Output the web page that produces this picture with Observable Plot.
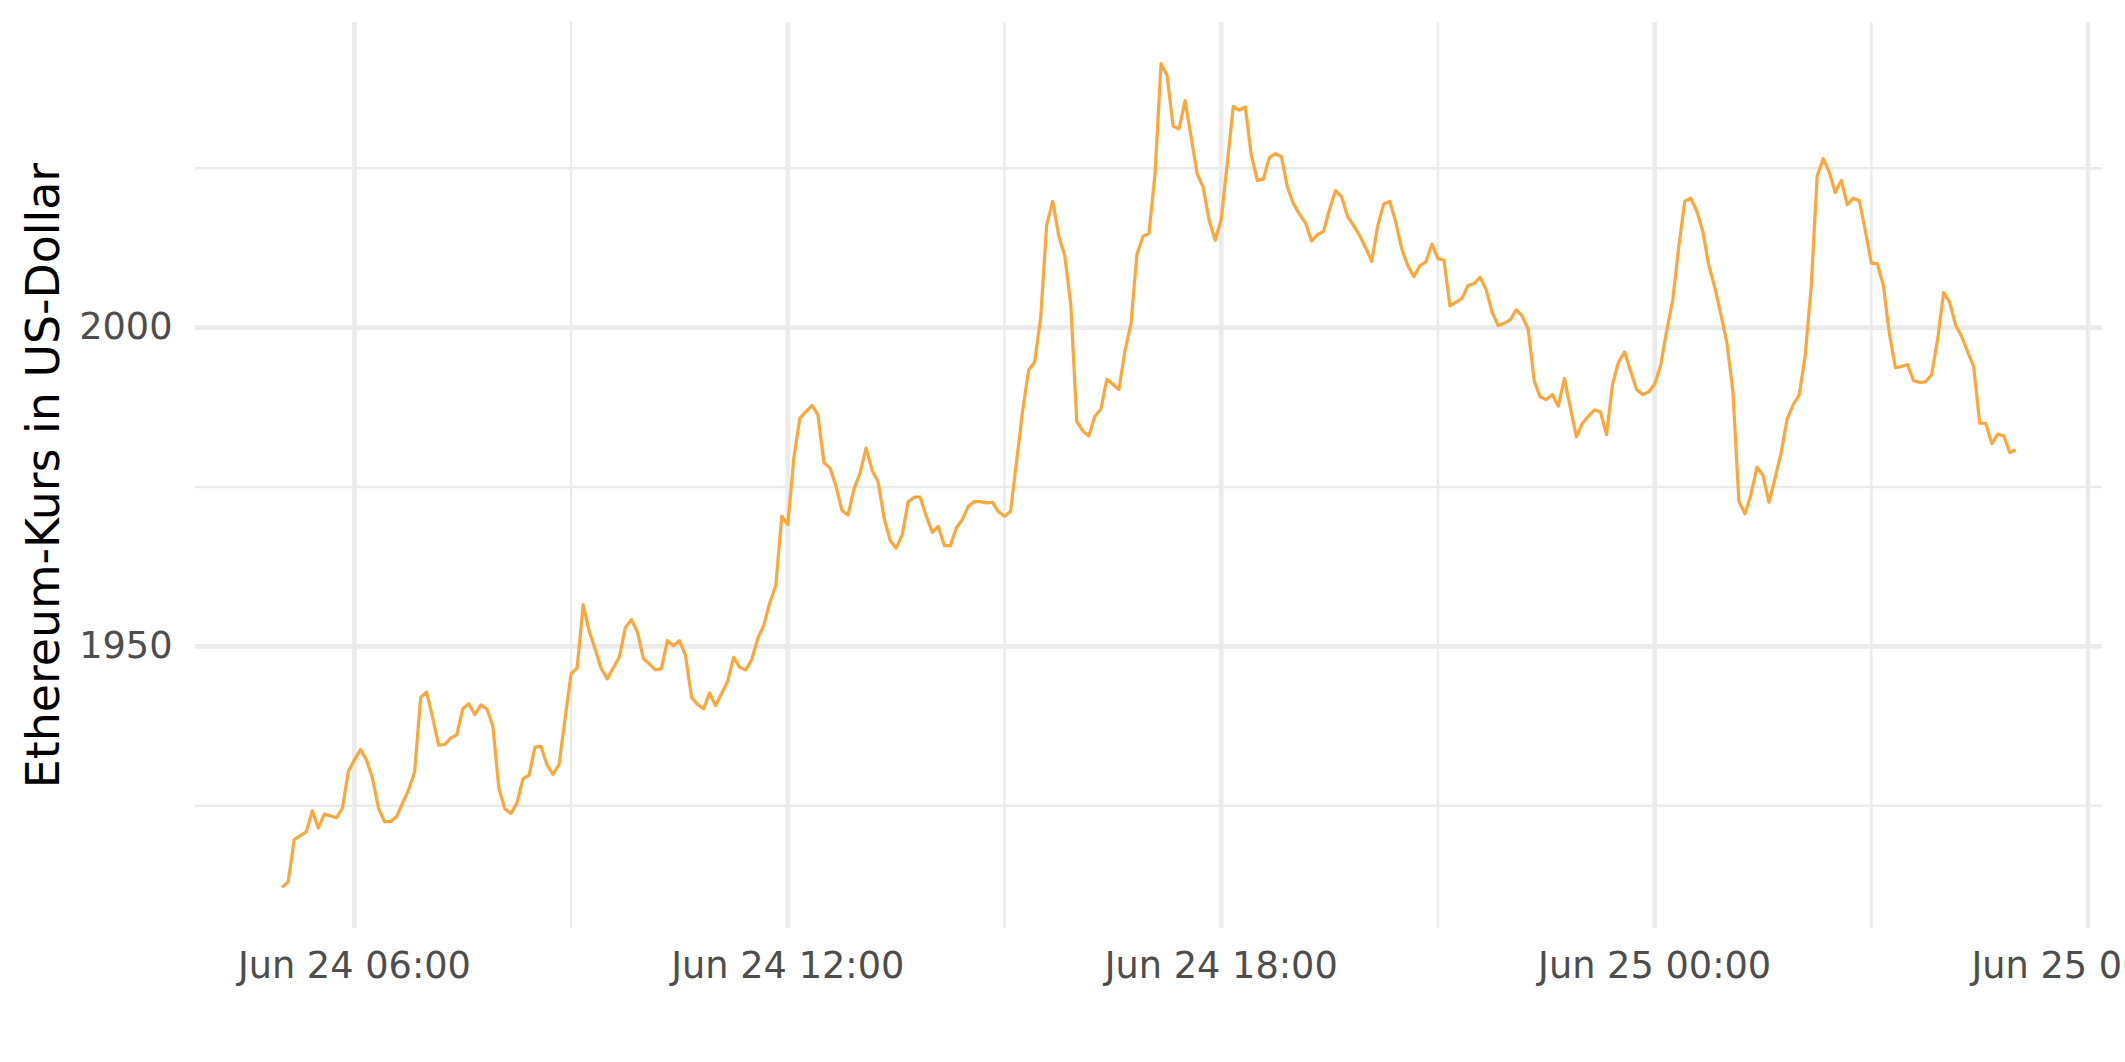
<!DOCTYPE html>
<html>
<head>
<meta charset="utf-8">
<script src="https://cdn.jsdelivr.net/npm/d3@7"></script>
<script src="https://cdn.jsdelivr.net/npm/@observablehq/plot@0.6"></script>
<style>
  html, body { margin: 0; padding: 0; background: #fff; overflow: hidden; }
  #chart svg { display: block; }
</style>
</head>
<body>
<div id="chart"></div>
<script>
// ---- data ----
const startTime = "2023-06-24T05:00:00Z";   // first observation
const stepMinutes = 5;                      // sampling interval of the series
const price = [
  // 05:00 - 05:55
  1912.2, 1913.1, 1919.7, 1920.3, 1920.9, 1924.2, 1921.5, 1923.7, 1923.4, 1923.1, 1924.6, 1930.4,
  // 06:00 - 06:55
  1932.2, 1933.8, 1932.2, 1929.3, 1924.6, 1922.5, 1922.5, 1923.3, 1925.4, 1927.5, 1930.3, 1942.0,
  // 07:00
  1942.8, 1938.8, 1934.5, 1934.6, 1935.6, 1936.1, 1940.2, 1941.0, 1939.3, 1940.8, 1940.2, 1937.5,
  // 08:00
  1927.7, 1924.5, 1923.8, 1925.4, 1929.2, 1929.8, 1934.2, 1934.3, 1931.4, 1929.9, 1931.5, 1938.7,
  // 09:00
  1945.7, 1946.6, 1956.5, 1952.4, 1949.5, 1946.5, 1944.9, 1946.6, 1948.3, 1952.9, 1954.2, 1952.3,
  // 10:00
  1948.1, 1947.2, 1946.3, 1946.5, 1950.9, 1950.1, 1950.9, 1948.6, 1942.0, 1940.9, 1940.2, 1942.7,
  // 11:00
  1940.7, 1942.6, 1944.5, 1948.3, 1946.7, 1946.3, 1947.9, 1951.2, 1953.3, 1956.8, 1959.6, 1970.4,
  // 12:00
  1969.1, 1979.6, 1985.8, 1986.8, 1987.8, 1986.3, 1978.8, 1978.0, 1975.1, 1971.3, 1970.6, 1974.7,
  // 13:00
  1977.2, 1981.1, 1977.6, 1975.8, 1970.1, 1966.6, 1965.4, 1967.5, 1972.7, 1973.4, 1973.4, 1970.4,
  // 14:00
  1967.9, 1968.8, 1965.8, 1965.8, 1968.6, 1969.9, 1972.0, 1972.7, 1972.7, 1972.5, 1972.6, 1971.1,
  // 15:00
  1970.4, 1971.2, 1979.0, 1986.9, 1993.3, 1994.6, 2001.5, 2016.1, 2019.8, 2014.4, 2011.3, 2003.7,
  // 16:00
  1985.3, 1983.8, 1983.0, 1986.1, 1987.2, 1991.9, 1991.1, 1990.3, 1996.3, 2000.6, 2011.5, 2014.3,
  // 17:00
  2014.8, 2024.1, 2041.4, 2039.6, 2031.6, 2031.2, 2035.6, 2029.9, 2024.1, 2022.0, 2016.8, 2013.7,
  // 18:00
  2017.0, 2025.7, 2034.7, 2034.1, 2034.6, 2027.0, 2023.1, 2023.3, 2026.7, 2027.3, 2026.8, 2022.0,
  // 19:00
  2019.4, 2017.8, 2016.4, 2013.6, 2014.6, 2015.1, 2018.6, 2021.5, 2020.5, 2017.4, 2016.0, 2014.4,
  // 20:00
  2012.5, 2010.4, 2016.0, 2019.4, 2019.8, 2016.5, 2012.3, 2009.7, 2008.0, 2009.7, 2010.3, 2013.1,
  // 21:00
  2010.8, 2010.6, 2003.4, 2004.0, 2004.6, 2006.6, 2006.9, 2007.9, 2006.0, 2002.4, 2000.3, 2000.7,
  // 22:00
  2001.2, 2002.8, 2001.8, 1999.7, 1991.6, 1989.1, 1988.7, 1989.5, 1987.7, 1992.0, 1987.4, 1982.9,
  // 23:00
  1985.0, 1986.1, 1987.1, 1986.8, 1983.2, 1991.1, 1994.6, 1996.2, 1993.2, 1990.3, 1989.5, 1989.9,
  // Jun 25 00:00
  1991.1, 1994.1, 1999.5, 2004.3, 2012.6, 2019.8, 2020.3, 2018.3, 2015.1, 2009.7, 2006.3, 2002.1,
  // 01:00
  1997.6, 1990.0, 1972.7, 1970.8, 1973.8, 1978.1, 1976.8, 1972.6, 1976.4, 1980.3, 1985.6, 1987.9,
  // 02:00
  1989.4, 1995.5, 2006.3, 2023.8, 2026.5, 2024.4, 2021.2, 2023.1, 2019.3, 2020.3, 2019.9, 2015.2,
  // 03:00
  2010.1, 2010.0, 2006.6, 1999.0, 1993.7, 1993.9, 1994.2, 1991.7, 1991.4, 1991.5, 1992.6, 1998.1,
  // 04:00
  2005.5, 2004.0, 2000.4, 1998.6, 1996.2, 1993.9, 1985.0, 1985.0, 1981.8, 1983.3, 1983.0, 1980.4,
  // 05:00
  1980.8
];

const xTicks = ["2023-06-24T06:00:00Z", "2023-06-24T12:00:00Z", "2023-06-24T18:00:00Z",
                "2023-06-25T00:00:00Z", "2023-06-25T06:00:00Z"];
const xMinorGrid = ["2023-06-24T09:00:00Z", "2023-06-24T15:00:00Z", "2023-06-24T21:00:00Z",
                    "2023-06-25T03:00:00Z"];
const yTicks = [1950, 2000];
const yMinorGrid = [1925, 1975, 2025];
const yTitle = "Ethereum-Kurs in US-Dollar";
const lineColor = "#FDA63A";
const gridColor = "#EBEBEB";

// ---- build table ----
const t0 = new Date(startTime).getTime();
const data = price.map((p, i) => ({date: new Date(t0 + i * stepMinutes * 60000), price: p}));

// ggplot-like 5% expansion
const tMin = data[0].date.getTime(), tMax = data[data.length - 1].date.getTime();
const tPad = (tMax - tMin) * 0.05;
const pMin = d3.min(price), pMax = d3.max(price);
const pPad = (pMax - pMin) * 0.05;

const fmt = d3.utcFormat("%b %d %H:%M");

const chart = Plot.plot({
  width: 2125,
  height: 1062,
  marginLeft: 195,
  marginRight: 23,
  marginTop: 22,
  marginBottom: 134,
  style: {
    fontFamily: "DejaVu Sans, sans-serif",
    fontSize: "36.7px",
    color: "#4D4D4D",
    background: "white",
    overflow: "hidden"
  },
  x: {
    type: "utc",
    domain: [new Date(tMin - tPad), new Date(tMax + tPad)],
    ticks: xTicks.map(d => new Date(d)),
    tickFormat: fmt,
    tickSize: 0,
    tickPadding: 23,
    label: null
  },
  y: {
    domain: [pMin - pPad, pMax + pPad],
    ticks: yTicks,
    tickFormat: d => String(d),
    tickSize: 0,
    tickPadding: 23,
    label: null
  },
  marks: [
    Plot.ruleY(yMinorGrid, {stroke: gridColor, strokeWidth: 2.4}),
    Plot.ruleX(xMinorGrid.map(d => new Date(d)), {stroke: gridColor, strokeWidth: 2.4}),
    Plot.ruleY(yTicks, {stroke: gridColor, strokeWidth: 4.6}),
    Plot.ruleX(xTicks.map(d => new Date(d)), {stroke: gridColor, strokeWidth: 4.6}),
    Plot.line(data, {x: "date", y: "price", stroke: lineColor, strokeWidth: 3.2,
                     strokeLinejoin: "round", strokeLinecap: "butt"}),
    Plot.text([yTitle], {
      frameAnchor: "left", dx: -151, rotate: -90,
      fontSize: 45.8, fill: "black", textAnchor: "middle"
    })
  ]
});

document.getElementById("chart").appendChild(chart);
</script>
</body>
</html>
